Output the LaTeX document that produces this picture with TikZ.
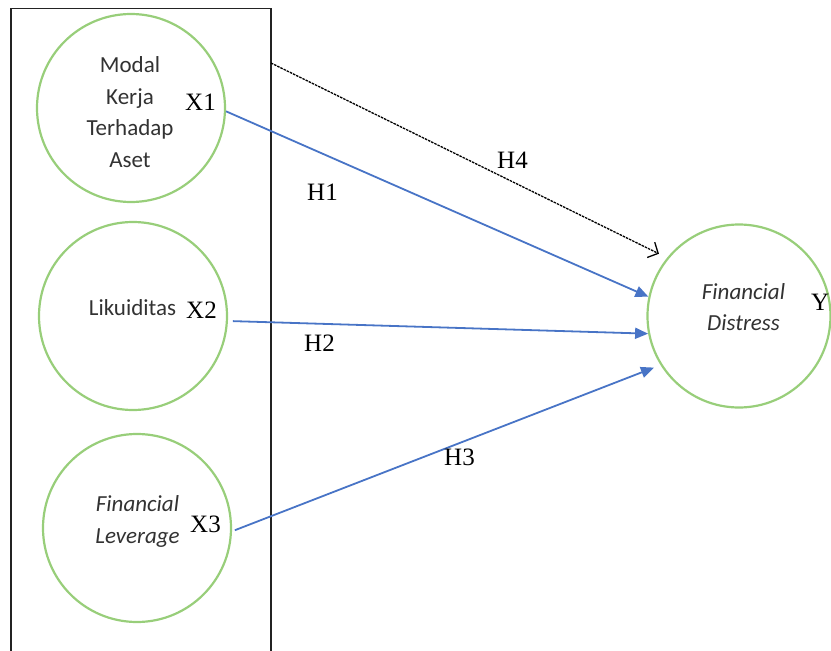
\documentclass[tikz,border=0pt]{standalone}
\usepackage{fontspec}
\setmainfont{Liberation Serif}
\newfontfamily\calibrifont{Carlito}
\definecolor{circlegreen}{RGB}{152,206,122}
\definecolor{arrowblue}{RGB}{72,116,198}
\definecolor{textgray}{RGB}{50,50,50}
\definecolor{framegray}{RGB}{35,35,35}
\usetikzlibrary{shapes,arrows.meta,positioning,calc}

\begin{document}
\begin{tikzpicture}[x=1pt, y=-1pt,
    varcircle/.style={circle, draw=circlegreen, line width=2.2pt, minimum size=188pt, inner sep=0pt},
    vartext/.style={align=center, text=textgray, inner sep=0pt, font=\calibrifont\fontsize{23}{31.5}\selectfont},
    varlabel/.style={anchor=base west, inner sep=0pt, font=\fontsize{25}{30}\selectfont},
    hyparrow/.style={-{Triangle[length=13pt,width=11pt]}, line width=1.8pt, color=arrowblue},
    hypdashed/.style={-{Straight Barb[length=8pt,width=17pt]}, line width=1.3pt, dash pattern=on 2.5pt off 1pt}]
    \useasboundingbox (0,0) rectangle (831,651);

    % Frame round the independent variables
    \node[draw=framegray, line width=1.8pt, outer sep=0pt, inner sep=0pt, minimum width=260pt, minimum height=700pt, anchor=north west] (frame) at (11,8.5) {};

    % Independent variables
    \node[varcircle] (x1) at (131,108) {};
    \node[vartext] (x1text) at (130,112) {Modal\\Kerja\\Terhadap\\Aset};
    \node[varlabel] (x1lab) at (185,110) {X1};

    \node[varcircle] (x2) at (133,316) {};
    \node[vartext] (x2text) at (132.5,308) {Likuiditas};
    \node[varlabel] (x2lab) at (186,318) {X2};

    \node[varcircle] (x3) at (137,528) {};
    \node[vartext] (x3text) at (137.5,521.5) {\itshape Financial\\\itshape Leverage};
    \node[varlabel] (x3lab) at (190,532) {X3};

    % Dependent variable
    \node[varcircle, minimum size=183pt] (y) at (739,316) {};
    \node[vartext] (ytext) at (743.5,307) {\itshape Financial\\\itshape Distress};
    \node[varlabel] (ylab) at (811,310) {Y};

    % Hypotheses
    \coordinate (h4from) at ($(frame.north east)+(0,54.5)$);
    \draw[hyparrow] (x1.-2.4) -- (y.168);
    \draw[hyparrow, shorten <=5pt] (x2.-3.5) -- (y.191.7);
    \draw[hyparrow, shorten <=3pt, shorten >=7pt] (x3.-2.3) -- (y.212.7);
    \draw[hypdashed, shorten >=9pt] (h4from) -- (y.141.4);

    \node[varlabel] (h1) at (307,200) {H1};
    \node[varlabel] (h2) at (304,351) {H2};
    \node[varlabel] (h3) at (444,465) {H3};
    \node[varlabel] (h4) at (497,168) {H4};
\end{tikzpicture}
\end{document}
